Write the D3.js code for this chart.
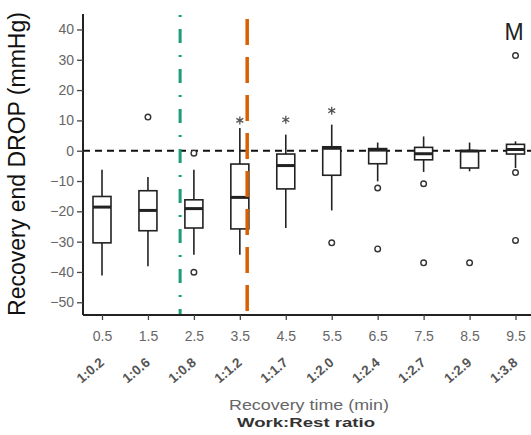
<!DOCTYPE html>
<html>
<head>
<meta charset="utf-8">
<script src="https://cdn.jsdelivr.net/npm/d3@7"></script>
<style>
  html, body { margin: 0; padding: 0; background: #fff; }
  svg { display: block; font-family: "Liberation Sans", Arial, sans-serif; }
</style>
</head>
<body>
<div id="chart"></div>
<script>
// ---- data ----
const recoveryTimes = [0.5, 1.5, 2.5, 3.5, 4.5, 5.5, 6.5, 7.5, 8.5, 9.5];
const ratioLabels = ["1:0.2","1:0.6","1:0.8","1:1.2","1:1.7","1:2.0","1:2.4","1:2.7","1:2.9","1:3.8"];
const whiskerLow  = [-41.2, -38.1, -34.3, -34.3, -25.5, -19.7, -10.1, -7.0, -6.8, -5.7];
const q1          = [-30.4, -26.4, -25.5, -25.8, -12.6,  -8.1,  -4.3, -3.0, -5.7, -1.1];
const medians     = [-18.6, -19.7, -19.1, -15.4,  -4.9,   0.8,   0.2, -1.0, -0.1,  0.4];
const q3          = [-15.1, -13.2, -16.2,  -4.4,  -1.1,   1.3,   0.7,  1.1, -0.1,  2.1];
const whiskerHigh = [ -6.3,  -8.7,  -6.3,   7.5,   5.3,   8.6,   2.7,  4.7,  2.7,  3.1];
const outliers    = [[], [11.1], [-0.8, -40.1], [], [], [-30.4], [-12.3, -32.4], [-10.9, -37.0], [-37.0], [-7.2, -29.6, 31.4]];
const extremes    = [[], [], [], [10.0], [10.2], [13.2], [], [], [], []];
const yTicks = [40, 30, 20, 10, 0, -10, -20, -30, -40, -50];
const refLineValues = [2.2, 3.66];
const panelLabel = "M";

// ---- layout ----
const W = 531, H = 435;
const mLeft = 83, mRight = 531, mTop = 14, mBottom = 315;

const svg = d3.select("#chart").append("svg").attr("width", W).attr("height", H);

const x = d3.scaleLinear().domain([0.0865, 9.837]).range([mLeft, mRight]);
const y = d3.scaleLinear().domain([-54.2, 45.1]).range([mBottom, mTop]);

// zero line
svg.append("line")
  .attr("x1", mLeft).attr("x2", mRight).attr("y1", y(0)).attr("y2", y(0))
  .attr("stroke", "#111").attr("stroke-width", 2).attr("stroke-dasharray", "7,5");

// boxes
const boxW = 18;
const rows = recoveryTimes.map((t, i) => ({
  t, lo: whiskerLow[i], q1: q1[i], med: medians[i], q3: q3[i], hi: whiskerHigh[i],
  out: outliers[i], ext: extremes[i]
}));
const g = svg.append("g").selectAll("g").data(rows).join("g");
g.append("line").attr("x1", d => x(d.t)).attr("x2", d => x(d.t))
  .attr("y1", d => y(d.q3)).attr("y2", d => y(d.hi)).attr("stroke", "#222").attr("stroke-width", 1.6);
g.append("line").attr("x1", d => x(d.t)).attr("x2", d => x(d.t))
  .attr("y1", d => y(d.q1)).attr("y2", d => y(d.lo)).attr("stroke", "#222").attr("stroke-width", 1.6);
g.append("rect").attr("x", d => x(d.t) - boxW / 2).attr("width", boxW)
  .attr("y", d => y(d.q3)).attr("height", d => Math.max(0.5, y(d.q1) - y(d.q3)))
  .attr("fill", "#fff").attr("stroke", "#222").attr("stroke-width", 1.6);
g.append("line").attr("x1", d => x(d.t) - boxW / 2).attr("x2", d => x(d.t) + boxW / 2)
  .attr("y1", d => y(d.med)).attr("y2", d => y(d.med)).attr("stroke", "#222").attr("stroke-width", 3);
g.selectAll("circle").data(d => d.out.map(v => ({ t: d.t, v }))).join("circle")
  .attr("cx", d => x(d.t)).attr("cy", d => y(d.v)).attr("r", 2.8)
  .attr("fill", "#fff").attr("stroke", "#333").attr("stroke-width", 1.4);
const astType = d3.symbolAsterisk || d3.symbolCross;
g.selectAll("path.ext").data(d => d.ext.map(v => ({ t: d.t, v }))).join("path").attr("class", "ext")
  .attr("transform", d => `translate(${x(d.t)},${y(d.v)})`)
  .attr("d", d3.symbol().type(astType).size(45))
  .attr("fill", "none").attr("stroke", "#555").attr("stroke-width", 1.3);

// reference lines
const refStyles = [
  { color: "#1B9E77", dash: "2,12,14,12", y0: 15, width: 3 },
  { color: "#D95F02", dash: "26,12", y0: 19, width: 3.5 }
];
refLineValues.forEach((v, i) => {
  const s = refStyles[i];
  svg.append("line").attr("x1", x(v)).attr("x2", x(v)).attr("y1", s.y0).attr("y2", mBottom)
    .attr("stroke", s.color).attr("stroke-width", s.width).attr("stroke-dasharray", s.dash);
});

// y axis
const yAxis = svg.append("g").attr("transform", `translate(${mLeft},0)`)
  .call(d3.axisLeft(y).tickValues(yTicks).tickSize(6).tickPadding(3).tickFormat(d3.format("d")));
yAxis.select(".domain").attr("d", `M0,${mTop}V${mBottom}`).attr("stroke", "#222").attr("stroke-width", 2);
yAxis.selectAll(".tick line").attr("stroke", "#444").attr("stroke-width", 1.3);
yAxis.selectAll(".tick text").attr("fill", "#666").attr("font-size", 14).attr("font-family", "Liberation Sans, Arial, sans-serif");

// x axis
const xAxis = svg.append("g").attr("transform", `translate(0,${mBottom})`)
  .call(d3.axisBottom(x).tickValues(recoveryTimes).tickSize(5).tickPadding(11).tickFormat(d3.format(".1f")));
xAxis.select(".domain").attr("d", `M${mLeft},0H${mRight}`).attr("stroke", "#222").attr("stroke-width", 2);
xAxis.selectAll(".tick line").attr("stroke", "#444").attr("stroke-width", 1.3);
xAxis.selectAll(".tick text").attr("fill", "#666").attr("font-size", 14).attr("font-family", "Liberation Sans, Arial, sans-serif");

// ratio labels (rotated), each in its own translated + rotated group
const ratioY = 364;
const ratioG = svg.append("g").selectAll("g").data(recoveryTimes).join("g")
  .attr("transform", d => `translate(${x(d) + 3},${ratioY}) rotate(-40)`);
ratioG.append("text")
  .attr("text-anchor", "end")
  .attr("font-size", 13.5).attr("font-weight", "bold").attr("fill", "#555")
  .text((d, i) => ratioLabels[i]);

// titles
svg.append("text").attr("x", 309).attr("y", 410).attr("text-anchor", "middle")
  .attr("font-size", 15).attr("fill", "#666")
  .attr("textLength", 160).attr("lengthAdjust", "spacingAndGlyphs")
  .text("Recovery time (min)");
svg.append("text").attr("x", 306).attr("y", 427).attr("text-anchor", "middle")
  .attr("font-size", 13).attr("font-weight", "bold").attr("fill", "#333")
  .attr("textLength", 138).attr("lengthAdjust", "spacingAndGlyphs")
  .text("Work:Rest ratio");
svg.append("text").attr("transform", `translate(25,164) rotate(-90)`).attr("text-anchor", "middle")
  .attr("font-size", 23).attr("fill", "#111")
  .text("Recovery end DROP (mmHg)");
svg.append("text").attr("x", 514).attr("y", 40).attr("text-anchor", "middle")
  .attr("font-size", 23).attr("fill", "#222").text(panelLabel);
</script>
</body>
</html>
